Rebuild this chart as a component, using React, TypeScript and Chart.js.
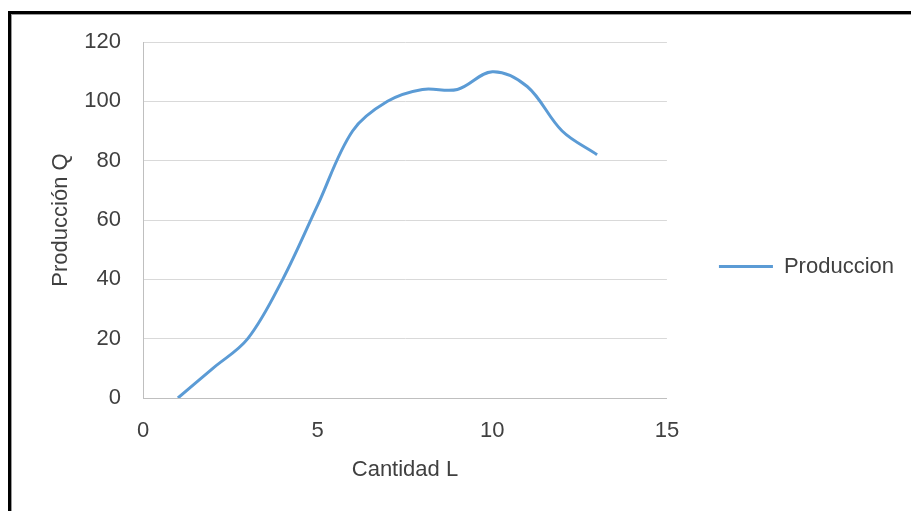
import React, { useEffect, useRef } from "react";
import { Chart, registerables } from "chart.js";

Chart.register(...registerables);

// ---- data ----
const cantidadL = [1, 2, 3, 4, 5, 6, 7, 8, 9, 10, 11, 12, 13];
const produccionQ = [0, 10, 20, 40, 65, 90, 100, 104, 104, 110, 105, 90, 82];
const seriesName = "Produccion";
const xTitle = "Cantidad L";
const yTitle = "Producción Q";
const xMin = 0;
const xMax = 15;
const xStep = 5;
const yMin = 0;
const yMax = 120;
const yStep = 20;

const W = 911;
const H = 511;
const TEXT = "#404040";
const FONT = { family: "'Liberation Sans', Arial, sans-serif", size: 22 };
const LEGEND_SHIFT = 42;

const legendShift = {
  id: "legendShift",
  afterLayout(chart: any) {
    const lg = chart.legend;
    if (lg) {
      lg.left += LEGEND_SHIFT;
      lg.right += LEGEND_SHIFT;
    }
  },
};

export default function App() {
  const ref = useRef<HTMLCanvasElement>(null);

  useEffect(() => {
    const chart = new Chart(ref.current as HTMLCanvasElement, {
      type: "line",
      data: {
        datasets: [
          {
            label: seriesName,
            data: cantidadL.map((x, i) => ({ x, y: produccionQ[i] })),
            borderColor: "#5b9bd5",
            backgroundColor: "#5b9bd5",
            borderWidth: 3,
            pointRadius: 0,
            pointHoverRadius: 0,
            tension: 0.35,
            fill: false,
          },
        ],
      },
      plugins: [legendShift],
      options: {
        responsive: false,
        animation: false,
        devicePixelRatio: 1,
        layout: { padding: { left: 40, top: 42, right: 49, bottom: 20 } },
        plugins: {
          legend: {
            position: "right",
            align: "center",
            labels: {
              usePointStyle: true,
              pointStyle: "line",
              pointStyleWidth: 54,
              padding: 10,
              color: TEXT,
              font: FONT,
            },
          },
          tooltip: { enabled: false },
        },
        scales: {
          x: {
            type: "linear",
            min: xMin,
            max: xMax,
            ticks: { stepSize: xStep, padding: 20, color: TEXT, font: FONT },
            grid: { display: false, drawTicks: false },
            border: { display: true, color: "#bfbfbf", width: 1 },
            title: {
              display: true,
              text: xTitle,
              color: TEXT,
              font: FONT,
              padding: { top: 0, bottom: 8 },
            },
            afterFit: (s: any) => {
              s.height = H - 20 - 398;
            },
          },
          y: {
            type: "linear",
            min: yMin,
            max: yMax,
            ticks: { stepSize: yStep, padding: 22, color: TEXT, font: FONT },
            grid: { color: "#d9d9d9", lineWidth: 1, drawTicks: false },
            border: { display: true, color: "#bfbfbf", width: 1 },
            title: {
              display: true,
              text: yTitle,
              color: TEXT,
              font: FONT,
              padding: { top: 8, bottom: 0 },
            },
            afterFit: (s: any) => {
              s.width = 143 - 40;
            },
          },
        },
      },
    } as any);
    return () => chart.destroy();
  }, []);

  return (
    <div
      style={{
        position: "absolute",
        left: 0,
        top: 0,
        width: W,
        height: H,
        overflow: "hidden",
        background: "#ffffff",
      }}
    >
      <div
        style={{
          position: "absolute",
          left: 8,
          top: 11,
          width: W + 50,
          height: H + 50,
          borderLeft: "3px solid #000",
          borderTop: "3px solid #000",
          boxShadow: "inset 1px 1px 0 #9a9a9a",
        }}
      />
      <canvas
        ref={ref}
        width={W}
        height={H}
        style={{ position: "absolute", left: 0, top: 0, width: W, height: H }}
      />
    </div>
  );
}
